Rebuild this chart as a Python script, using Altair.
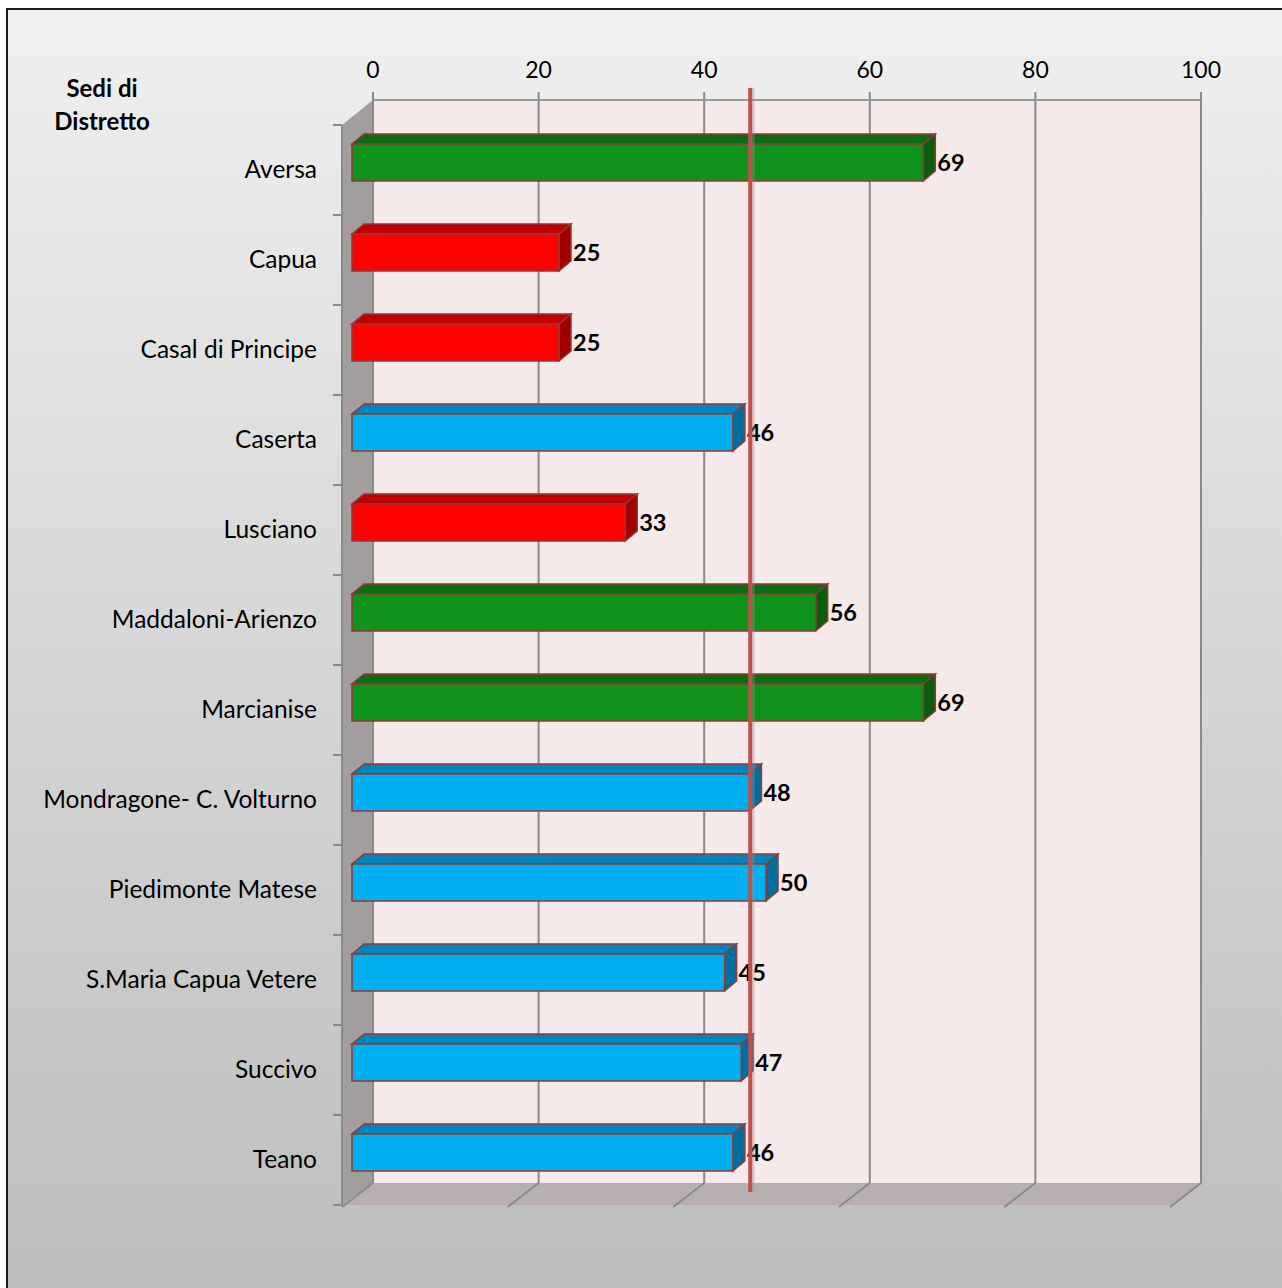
import altair as alt
import pandas as pd

# ---------------- data ----------------
categories = ["Aversa", "Capua", "Casal di Principe", "Caserta", "Lusciano",
              "Maddaloni-Arienzo", "Marcianise", "Mondragone- C. Volturno",
              "Piedimonte Matese", "S.Maria Capua Vetere", "Succivo", "Teano"]
values = [69, 25, 25, 46, 33, 56, 69, 48, 50, 45, 47, 46]
groups = ["alto", "basso", "basso", "medio", "basso", "alto", "alto",
          "medio", "medio", "medio", "medio", "medio"]
x_ticks = [0, 20, 40, 60, 80, 100]
axis_title = ["Sedi di", "Distretto"]

# ---------------- styling / geometry (pixels) ----------------
FONT = "Lato"
palette = {
    "alto":  {"front": "#10931a", "top": "#0c6c12", "side": "#0a5c0e"},
    "basso": {"front": "#ff0000", "top": "#c00000", "side": "#a00000"},
    "medio": {"front": "#00b0f0", "top": "#0085bd", "side": "#006f9e"},
}
W, H = 859, 1105
PXU = 8.28          # px per value unit
ROW = 90.0          # px per category row
X_MIN = -31 / PXU   # left edge of plot (front of left wall)
Y_MIN = -70 / ROW   # top of plot (top of back wall)
Y_MAX = 11.5        # bottom of plot (front of floor)
FLOOR_BACK = Y_MIN + 1083 / ROW
FRONT = -21 / PXU   # depth plane of bar front faces
DX = 12 / PXU       # bar depth, x
DY = -10 / ROW      # bar depth, y
MID = -8.5 / PXU    # depth plane of average line

xs = alt.Scale(domain=[X_MIN, 100], nice=False, zero=False)
ys = alt.Scale(domain=[Y_MIN, Y_MAX], nice=False, zero=False, reverse=True)


def X(f, **kw):
    return alt.X(f, scale=xs, axis=None, **kw)


def Y(f, **kw):
    return alt.Y(f, scale=ys, axis=None, **kw)


# ---------------- derived tables ----------------
bars, tops, sides = [], [], []
for i, (c, v, g) in enumerate(zip(categories, values, groups)):
    yt, yb = i - 26 / ROW, i + 11 / ROW
    bars.append(dict(cat=c, x0=FRONT, x1=v + FRONT, yt=yt, yb=yb,
                     fill=palette[g]["front"], lx=v + FRONT + DX,
                     ly=i - 6 / ROW, label=str(v)))
    tops.append(dict(cat=c, y=yt, xa=FRONT, xb=v + FRONT, fill=palette[g]["top"]))
    tops.append(dict(cat=c, y=yt + DY, xa=FRONT + DX, xb=v + FRONT + DX, fill=palette[g]["top"]))
    sides.append(dict(cat=c, x=v + FRONT, ya=yt, yb=yb, fill=palette[g]["side"]))
    sides.append(dict(cat=c, x=v + FRONT + DX, ya=yt + DY, yb=yb + DY, fill=palette[g]["side"]))
bars_df = pd.DataFrame(bars)
tops_df = pd.DataFrame(tops)
sides_df = pd.DataFrame(sides)

mean_val = sum(values) / len(values)

one = pd.DataFrame({"a": [0]})

# background frame with gradient
frame = alt.Chart(one).mark_rect(
    fill={"gradient": "linear", "x1": 0, "x2": 0, "y1": 0, "y2": 1,
          "stops": [{"offset": 0, "color": "#f0f0f0"},
                    {"offset": 1, "color": "#bcbcbc"}]},
    stroke="#1a1a1a", strokeWidth=2
).encode(x=alt.value(7 - 342), x2=alt.value(1282 - 342 + 30),
         y=alt.value(9 - 100), y2=alt.value(1288 - 100 + 30))

# back wall
wall = alt.Chart(pd.DataFrame({"x": [0], "x2": [100], "y": [Y_MIN], "y2": [FLOOR_BACK]})).mark_rect(
    fill="#f5e9e9").encode(x=X("x:Q"), x2="x2:Q", y=Y("y:Q"), y2="y2:Q")

# left wall
lw_df = pd.DataFrame({"x": [X_MIN, 0], "ya": [-0.5, Y_MIN], "yb": [Y_MAX, FLOOR_BACK]})
left_wall = alt.Chart(lw_df).mark_area(orient="vertical", fill="#a39e9e").encode(
    x=X("x:Q"), y=Y("ya:Q", stack=None), y2="yb:Q")

# floor
fl_df = pd.DataFrame({"y": [FLOOR_BACK, Y_MAX], "xa": [0, X_MIN], "xb": [100, 100 + X_MIN]})
floor = alt.Chart(fl_df).mark_area(orient="horizontal", fill="#b8b0b0").encode(
    y=Y("y:Q"), x=X("xa:Q", stack=None), x2="xb:Q")

# gridlines on back wall (with small ticks above)
grid_df = pd.DataFrame({"x": x_ticks, "y": [Y_MIN - 8 / ROW] * len(x_ticks),
                        "y2": [FLOOR_BACK] * len(x_ticks)})
grid = alt.Chart(grid_df).mark_rule(color="#8a8a8a", strokeWidth=2).encode(
    x=X("x:Q"), y=Y("y:Q"), y2="y2:Q")

top_line = alt.Chart(pd.DataFrame({"x": [0], "x2": [100], "y": [Y_MIN]})).mark_rule(
    color="#9a9a9a", strokeWidth=2).encode(x=X("x:Q"), x2="x2:Q", y=Y("y:Q"))

# x tick labels (top)
xl_df = pd.DataFrame({"x": x_ticks, "y": [Y_MIN - 22 / ROW] * len(x_ticks),
                      "t": [str(k) for k in x_ticks]})
x_labels = alt.Chart(xl_df).mark_text(
    align="center", baseline="alphabetic", font=FONT, fontSize=23, color="#000000"
).encode(x=X("x:Q"), y=Y("y:Q"), text="t:N")

# floor diagonals
diag_df = pd.DataFrame({"x": x_ticks, "x2": [k + X_MIN for k in x_ticks],
                        "y": [FLOOR_BACK] * len(x_ticks), "y2": [Y_MAX + 2 / ROW] * len(x_ticks)})
diags = alt.Chart(diag_df).mark_rule(color="#8a8a8a", strokeWidth=2).encode(
    x=X("x:Q"), x2="x2:Q", y=Y("y:Q"), y2="y2:Q")

# left front edge + category ticks
edge = alt.Chart(pd.DataFrame({"x": [X_MIN], "y": [-0.5], "y2": [Y_MAX]})).mark_rule(
    color="#8a8a8a", strokeWidth=2).encode(x=X("x:Q"), y=Y("y:Q"), y2="y2:Q")
tk_df = pd.DataFrame({"y": [k - 0.5 for k in range(len(categories) + 1)]})
tk_df["x"] = X_MIN - 9 / PXU
tk_df["x2"] = X_MIN
cat_ticks = alt.Chart(tk_df).mark_rule(color="#8a8a8a", strokeWidth=2).encode(
    x=X("x:Q"), x2="x2:Q", y=Y("y:Q"))

# category labels
cl_df = pd.DataFrame({"cat": categories, "y": [i + 1 / ROW for i in range(len(categories))]})
cl_df["x"] = X_MIN - 25 / PXU
cat_labels = alt.Chart(cl_df).mark_text(
    align="right", baseline="middle", font=FONT, fontSize=24.5, color="#000000"
).encode(x=X("x:Q"), y=Y("y:Q"), text="cat:N")

BAR_STROKE = "#953735"

top_faces = alt.Chart(tops_df).mark_area(orient="horizontal", stroke=BAR_STROKE, strokeWidth=1.5).encode(
    y=Y("y:Q"), x=X("xa:Q", stack=None), x2="xb:Q",
    fill=alt.Fill("fill:N", scale=None), detail="cat:N")

side_faces = alt.Chart(sides_df).mark_area(orient="vertical", stroke=BAR_STROKE, strokeWidth=1.5).encode(
    x=X("x:Q"), y=Y("ya:Q", stack=None), y2="yb:Q",
    fill=alt.Fill("fill:N", scale=None), detail="cat:N")

front_faces = alt.Chart(bars_df).mark_rect(stroke=BAR_STROKE, strokeWidth=1.5).encode(
    x=X("x0:Q"), x2="x1:Q", y=Y("yt:Q"), y2="yb:Q",
    fill=alt.Fill("fill:N", scale=None))

labels = alt.Chart(bars_df).mark_text(
    align="left", baseline="middle", dx=2, font=FONT, fontSize=23.5, fontWeight="bold", color="#000000"
).encode(x=X("lx:Q"), y=Y("ly:Q"), text="label:N")

avg_df = pd.DataFrame({"x": [mean_val + MID], "y": [Y_MIN - 12 / ROW], "y2": [Y_MIN + 1092 / ROW]})
avg_shadow = alt.Chart(avg_df).mark_rule(color="#999999", strokeWidth=3, opacity=0.35, xOffset=3).encode(
    x=X("x:Q"), y=Y("y:Q"), y2="y2:Q")
avg_line = alt.Chart(avg_df).mark_rule(color="#c0504d", strokeWidth=4).encode(
    x=X("x:Q"), y=Y("y:Q"), y2="y2:Q")

title_txt = alt.Chart(one).mark_text(
    text=axis_title, align="center", baseline="alphabetic", lineHeight=33,
    font=FONT, fontSize=24, fontWeight="bold", color="#000000"
).encode(x=alt.value(102 - 342), y=alt.value(97 - 100))

chart = alt.layer(
    frame, wall, left_wall, floor, grid, top_line, x_labels, diags, edge, cat_ticks, cat_labels,
    top_faces, side_faces, front_faces, labels, avg_shadow, avg_line, title_txt
).properties(
    width=W, height=H,
    padding={"left": 342, "top": 100, "right": 1282 - 342 - W, "bottom": 1288 - 100 - H},
    autosize=alt.AutoSizeParams(type="none"),
    background="white",
).configure_view(stroke=None)

chart.save("out.html", embed_options={"renderer": "svg", "actions": False})
